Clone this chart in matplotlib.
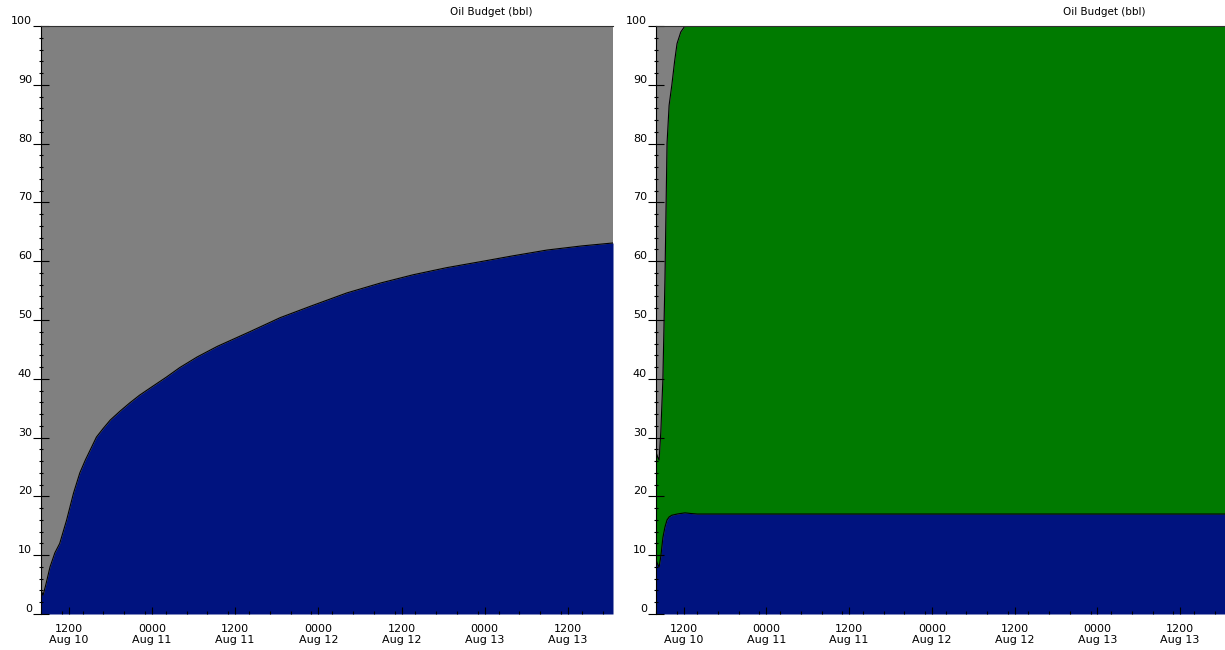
import numpy as np
import matplotlib
matplotlib.use("Agg")
import matplotlib.pyplot as plt
from matplotlib.ticker import MultipleLocator, FixedLocator, FixedFormatter

# hours after 0800 Aug 10
hours_left = [0, 0.3, 0.7, 1.3, 2.0, 2.7, 3.7, 4.7, 5.6, 6.4, 7.1, 8.0, 9.0, 10.0, 11.4, 12.8,
              14.2, 15.7, 18.1, 20, 22.5, 25.4, 30.1, 34.5, 39, 44.1, 49, 53.7, 58.5, 63.3,
              68, 73, 78, 82.5]
evap_left = [4.0, 3.2, 5.0, 8.0, 10.4, 12.0, 16.0, 20.6, 24.0, 26.2, 27.9, 30.1, 31.6, 33.0, 34.5, 35.9,
             37.2, 38.4, 40.3, 41.9, 43.7, 45.5, 48.0, 50.4, 52.4, 54.6, 56.3, 57.7, 58.9, 59.9,
             60.9, 61.9, 62.6, 63.1]

hours_right = [0, 0.2, 0.45, 0.7, 1.0, 1.3, 1.6, 1.9, 2.3, 2.7, 3.05, 3.6, 4.2, 5.0,
               6.0, 10, 20, 40, 60, 82.5]
evap_right = [9.2, 8.6, 8.0, 9.8, 13.0, 14.8, 16.0, 16.5, 16.8, 16.9, 17.0, 17.1, 17.2, 17.1,
              17.0, 17.0, 17.0, 17.0, 17.0, 17.0]
dispersed_top_right = [27.5, 26.8, 26.2, 31.0, 40.0, 57.0, 80.0, 86.5, 90.0, 94.0, 97.0, 99.0,
                       100, 100, 100, 100, 100, 100, 100, 100]

tick_hours = [4, 16, 28, 40, 52, 64, 76]
tick_labels = ["1200\nAug 10", "0000\nAug 11", "1200\nAug 11", "0000\nAug 12",
               "1200\nAug 12", "0000\nAug 13", "1200\nAug 13"]
title = "Oil Budget (bbl)"

GRAY = "#808080"
BLUE = "#00137f"
GREEN = "#007a00"

fig = plt.figure(figsize=(12.25, 6.5), dpi=100)
ax1 = fig.add_axes([41/1225, 1-614/650, 572/1225, 588/650])
ax2 = fig.add_axes([656/1225, 1-614/650, 569/1225, 588/650])


def style(ax, xmax):
    ax.set_xlim(0, xmax)
    ax.set_ylim(0, 100)
    ax.set_facecolor(GRAY)
    for s in ["right", "bottom"]:
        ax.spines[s].set_visible(False)
    ax.spines["left"].set_color("black")
    ax.spines["top"].set_color("#303030")
    ax.yaxis.set_major_locator(MultipleLocator(10))
    ax.yaxis.set_minor_locator(MultipleLocator(2))
    ax.tick_params(axis="y", which="major", direction="inout", length=11, width=0.8,
                   labelsize=8, pad=1, colors="black")
    ax.tick_params(axis="y", which="minor", direction="inout", length=3, width=0.8)
    ax.xaxis.set_major_locator(FixedLocator(tick_hours))
    ax.xaxis.set_major_formatter(FixedFormatter(tick_labels))
    ax.xaxis.set_minor_locator(MultipleLocator(3))
    ax.tick_params(axis="x", which="major", direction="in", length=5, width=0.8,
                   labelsize=8, pad=7)
    ax.tick_params(axis="x", which="minor", direction="in", length=2.5, width=0.8)
    for lab in ax.get_yticklabels():
        lab.set_verticalalignment("bottom")
    ax.text(0.787, 1.024, title, transform=ax.transAxes, ha="center", va="center",
            fontsize=7.5)


# left panel
hl = np.array(hours_left)
el = np.array(evap_left)
ax1.fill_between(hl, 0, el, color=BLUE, lw=0)
ax1.plot(hl, el, color="black", lw=0.8)
style(ax1, 82.5)

# right panel
hr = np.array(hours_right)
er = np.array(evap_right)
dr = np.array(dispersed_top_right)
ax2.fill_between(hr, er, dr, color=GREEN, lw=0)
ax2.fill_between(hr, 0, er, color=BLUE, lw=0)
ax2.plot(hr, er, color="black", lw=0.8)
ax2.plot(hr, dr, color="black", lw=0.8)
style(ax2, 82.5)

fig.savefig("out.png", dpi=100)
